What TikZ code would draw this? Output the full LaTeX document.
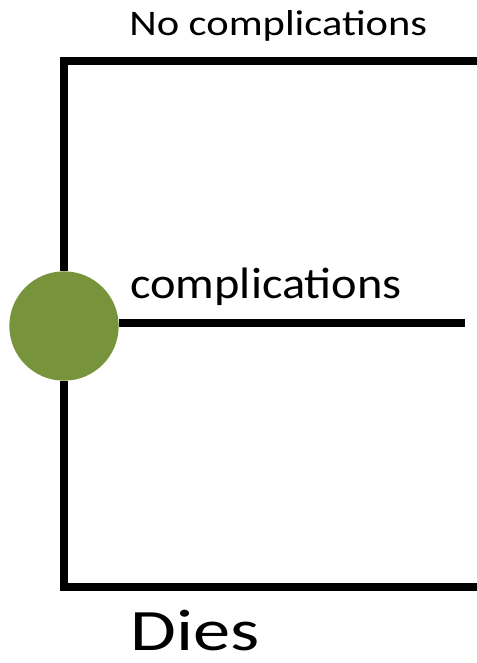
\documentclass[tikz,border=0pt]{standalone}
\usepackage{fontspec}
\setmainfont{Carlito}
\definecolor{olivenode}{RGB}{119,147,60}
\tikzset{
  branch/.style={line width=5.6pt, line join=miter},
  chancenode/.style={circle, fill=olivenode, inner sep=0pt, minimum size=82pt},
  lbl/.style={anchor=base west, inner sep=0pt}
}
\begin{document}
\begin{tikzpicture}[x=0.75pt, y=-0.75pt]
\useasboundingbox (0,0) rectangle (477,663);

\node[chancenode] (chance) at (64,326) {};
\coordinate (noend) at (480,61);
\coordinate (compend) at (465,323);
\coordinate (diesend) at (480,587);

\draw[branch] (chance.north) |- (noend);
\draw[branch] (chance.east |- compend) -- (compend);
\draw[branch] (chance.south) |- (diesend);

\node[lbl, xscale=1.18, font=\fontsize{27}{32}\selectfont] (nolbl) at (129,36) {No complications};
\node[lbl, xscale=1.1, font=\fontsize{33}{39}\selectfont] (complbl) at (130,298) {complications};
\node[lbl, xscale=1.27, font=\fontsize{44}{52}\selectfont] (dieslbl) at (130,650) {Dies};
\end{tikzpicture}
\end{document}
